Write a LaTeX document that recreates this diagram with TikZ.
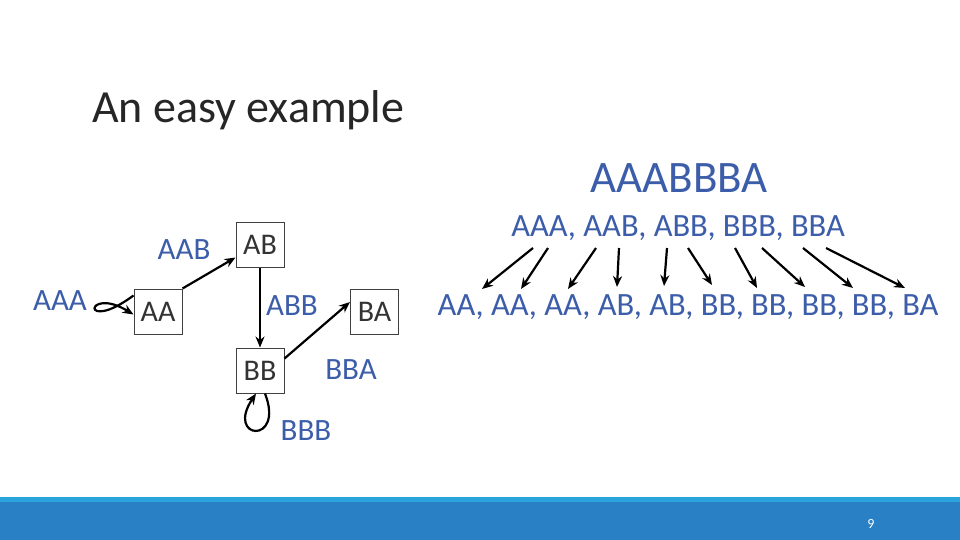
\documentclass[tikz,border=0pt]{standalone}
\usepackage{fontspec}
\setmainfont{Carlito}
\usetikzlibrary{arrows.meta}
\definecolor{kblue}{HTML}{3C5DA9}
\definecolor{bar}{HTML}{2A80C5}
\definecolor{barlt}{HTML}{2BA3DC}
\definecolor{ttl}{HTML}{262626}
\begin{document}
\begin{tikzpicture}[x=1pt,y=-1pt,
  box/.style={draw=black!75,fill=white,line width=1pt,minimum width=48pt,minimum height=45pt,inner sep=0pt,font=\fontsize{30}{30}\selectfont,text=black!80},
  lbl/.style={text=kblue,font=\fontsize{31}{31}\selectfont,inner sep=0pt},
  seq/.style={text=kblue,font=\fontsize{32.5}{32}\selectfont,inner sep=0pt},
  arr/.style={-{Stealth[length=11pt,width=9pt]},line width=2.2pt,black}]
\useasboundingbox (0,0) rectangle (960,540);
\fill[white] (0,0) rectangle (960,540);
\fill[bar] (0,497) rectangle (960,540);
\fill[barlt] (0,497) rectangle (960,502);
\node[text=white,font=\fontsize{14}{14}\selectfont] (pg) at (871,524) {9};
\node[text=ttl,font=\fontsize{46}{46}\selectfont,anchor=west,inner sep=0pt] (title) at (92,110) {An easy example};
% graph
\node[box] (AB) at (260,244.5) {AB};
\node[box] (AA) at (158,311.5) {AA};
\node[box] (BA) at (374.5,312) {BA};
\node[box] (BB) at (260,370.5) {BB};
\node[lbl] (lAAB) at (184,250) {AAB};
\node[lbl] (lAAA) at (60,301) {AAA};
\node[lbl] (lABB) at (292,306) {ABB};
\node[lbl] (lBBA) at (351,370) {BBA};
\node[lbl] (lBBB) at (306,431) {BBB};
\draw[arr] (AA.north east) -- ([yshift=10pt]AB.south west);
\draw[arr] (AB) -- (BB);
\draw[arr] ([yshift=12pt]BB.east) -- ([yshift=10pt]BA.west);
\draw[arr] ([yshift=16pt]AA.west) .. controls (80,335) and (85,285) .. ([yshift=-3pt]AA.west);
\draw[arr] ([xshift=5pt]BB.south) .. controls (285,445) and (225,440) .. ([xshift=-4pt]BB.south);
% sequence
\node[seq,font=\fontsize{45}{45}\selectfont] (full) at (679,178) {AAABBBA};
\node[seq] (mid) at (678,228) {AAA, AAB, ABB, BBB, BBA};
\node[seq] (bot) at (688,307) {AA, AA, AA, AB, AB, BB, BB, BB, BB, BA};
\foreach \i/\sx/\ex/\ey in {1/533/482/289,2/548/521/289,3/596/568/289,4/619/617/287,5/667/664/286,6/688/712/285,7/735/757/288,8/762/805/287,9/803/853/288,10/826/905/288}{
  \coordinate (s\i) at (\sx,248);
  \coordinate (e\i) at (\ex,\ey);
  \draw[arr] (s\i) -- (e\i);
}
\end{tikzpicture}
\end{document}
